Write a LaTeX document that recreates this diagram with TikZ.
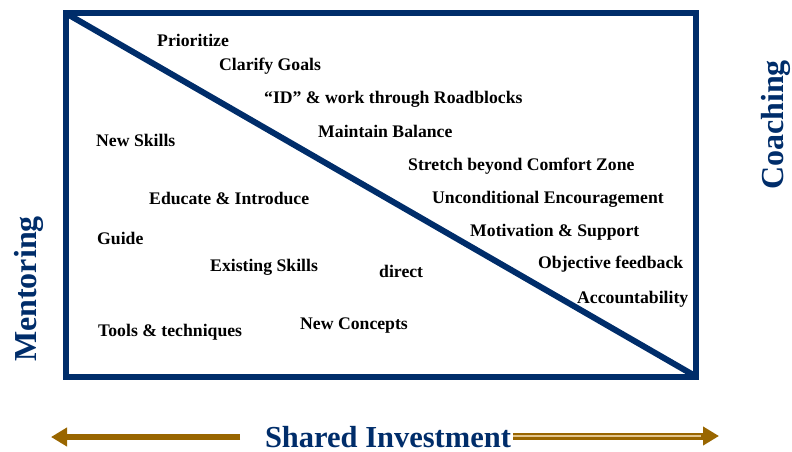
\documentclass[tikz,border=0pt]{standalone}
\usepackage{fontspec}
\setmainfont{Liberation Serif}
\usetikzlibrary{arrows.meta}

\definecolor{navy}{RGB}{0,45,106}
\definecolor{bronze}{RGB}{153,102,0}
\definecolor{sand}{RGB}{226,196,140}

\begin{document}
\begin{tikzpicture}[x=1pt,y=-1pt,
    item/.style={anchor=base west,inner sep=0pt,font=\fontsize{17.7}{20}\selectfont\bfseries},
    side/.style={inner sep=0pt,text=navy,font=\fontsize{32}{34}\selectfont\bfseries},
    shaft/.style={line width=6pt,color=bronze}]
  \useasboundingbox (0,0) rectangle (792,451);

  % frame and diagonal
  \coordinate (tl) at (65.5,13);
  \coordinate (br) at (696,376.5);
  \draw [line width=6pt,color=navy] (tl) rectangle (br);
  \draw [line width=6pt,color=navy] (tl) -- (br);

  % coaching side (above the diagonal)
  \node [item] (prio) at (157,46) {Prioritize};
  \node [item] (goals) at (219,70) {Clarify Goals};
  \node [item] (roadblocks) at (264,103) {``ID'' \& work through Roadblocks};
  \node [item] (balance) at (318,137) {Maintain Balance};
  \node [item] (stretch) at (408,170) {Stretch beyond Comfort Zone};
  \node [item] (encourage) at (432,203) {Unconditional Encouragement};
  \node [item] (support) at (470,236) {Motivation \& Support};
  \node [item] (feedback) at (538,268.5) {Objective feedback};
  \node [item] (account) at (577,303) {Accountability};

  % mentoring side (below the diagonal)
  \node [item] (newskills) at (96,146.5) {New Skills};
  \node [item] (educate) at (149,204) {Educate \& Introduce};
  \node [item] (guide) at (97,244) {Guide};
  \node [item] (existing) at (210,271) {Existing Skills};
  \node [item] (direct) at (379,277.5) {direct};
  \node [item] (tools) at (98,336) {Tools \& techniques};
  \node [item] (concepts) at (300,329) {New Concepts};

  \node [side,rotate=90] (mentoring) at (29,289) {Mentoring};
  \node [side,rotate=90] (coaching) at (776,125) {Coaching};

  % shared investment axis
  \node [side,anchor=base,text depth=0pt,font=\fontsize{30.5}{32}\selectfont\bfseries] (shared) at (388,447) {Shared Investment};
  \coordinate (lstart) at (240,437);
  \coordinate (ltip) at (51,437);
  \coordinate (rstart) at (513,436);
  \coordinate (rtip) at (719,436);
  \draw [shaft,-{Triangle[length=16pt,width=18pt]}] (lstart) -- (ltip);
  \draw [shaft,line width=7pt,-{Triangle[length=16pt,width=18pt]}] (rstart) -- (rtip);
  \draw [line width=2pt,color=sand] (rstart) -- ([xshift=-18pt]rtip);

\end{tikzpicture}
\end{document}
